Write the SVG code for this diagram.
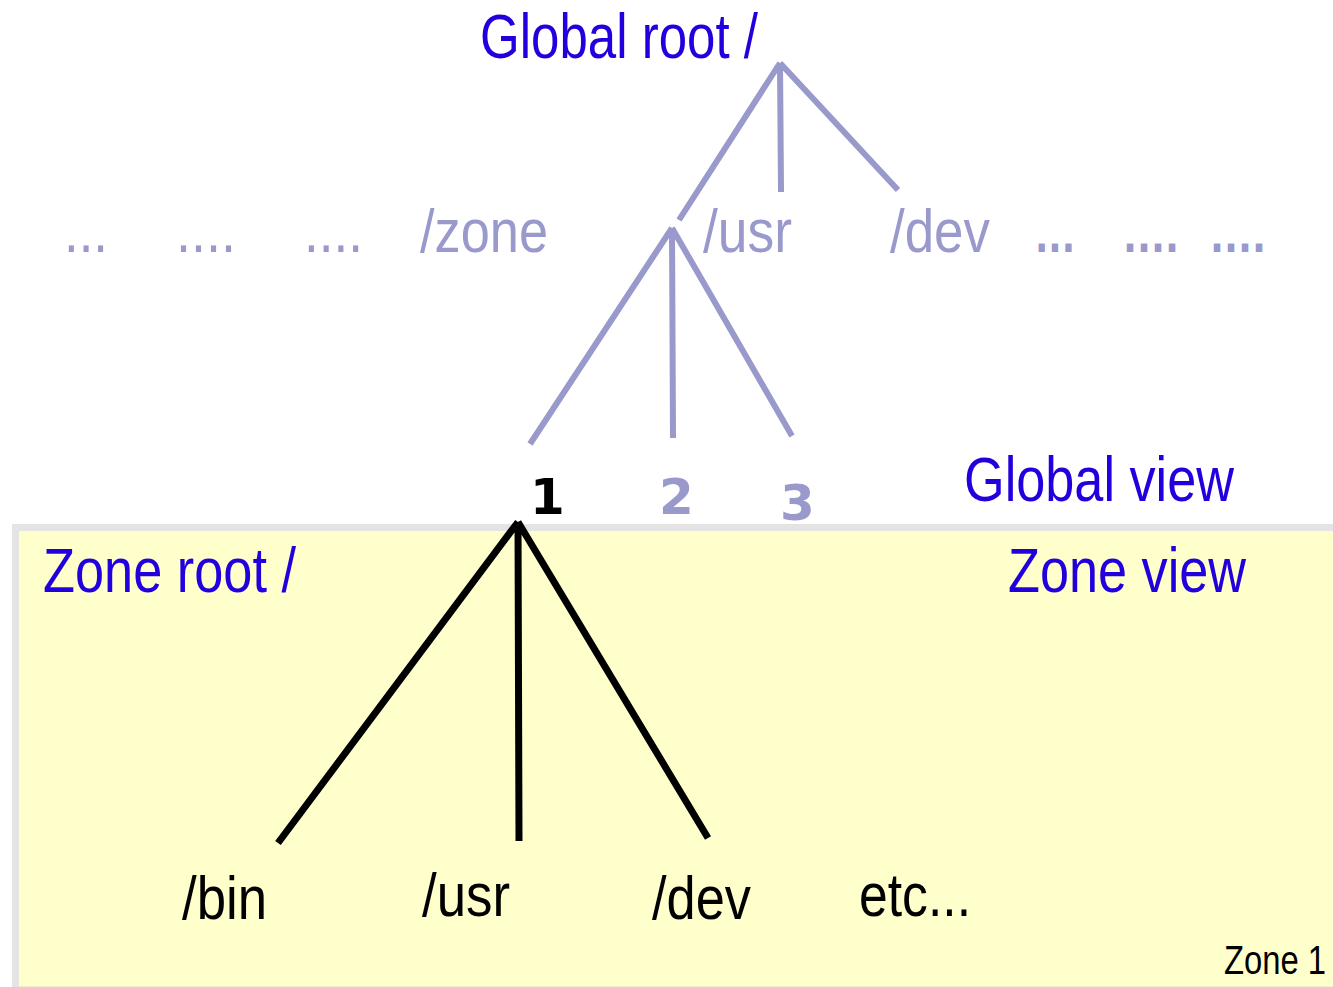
<svg xmlns="http://www.w3.org/2000/svg" width="1333" height="987" viewBox="0 0 1333 987">
<style>
text{font-family:"Liberation Sans",Arial,sans-serif;}
.blue{fill:#2200dd;font-size:63px;}
.gray{fill:#9999cc;font-size:62px;}
.blk{fill:#000;font-size:62px;}
.num{font-family:"DejaVu Sans",sans-serif;font-weight:bold;font-size:50px;}
.gl{stroke:#9999cc;stroke-width:6;fill:none;}
.bl{stroke:#000;stroke-width:7;fill:none;}
.sq{font-family:"DejaVu Sans",sans-serif;font-weight:bold;font-size:44px;fill:#9999cc;}
</style>
<rect width="1333" height="987" fill="#ffffff"/>
<g id="zone-box">
<path d="M15.5,990 L15.5,527.5 L1340,527.5" fill="#ffffcc" stroke="#e4e4e4" stroke-width="7"/>
<rect x="19" y="531" width="1314" height="456" fill="#ffffcc"/>
<line x1="19" y1="986.5" x2="1333" y2="986.5" stroke="#eeeecc" stroke-width="1"/>
</g>
<g id="zone-label"><text transform="translate(1224,974) scale(0.8,1)" font-size="41" fill="#000">Zone 1</text></g>
<g id="connectors">
<path class="gl" d="M780,63 L679,220 M780,63 L781,192 M780,63 L898,190"/>
<path class="gl" d="M672,228 L530,444 M672,228 L673,438 M672,228 L792,436"/>
<path class="bl" d="M518,522 L278,843 M518,522 L519,841 M518,522 L708,838"/>
</g>
<g id="global-root"><text class="blue" x="480" y="58" textLength="278" lengthAdjust="spacingAndGlyphs">Global root /</text></g>
<g id="dots-left">
<text class="gray" x="64" y="252" textLength="44" lengthAdjust="spacingAndGlyphs">...</text>
<text class="gray" x="176" y="252" textLength="60" lengthAdjust="spacingAndGlyphs">....</text>
<text class="gray" x="304" y="252" textLength="59" lengthAdjust="spacingAndGlyphs">....</text>
</g>
<g id="zone"><text class="gray" x="420" y="252" textLength="128" lengthAdjust="spacingAndGlyphs">/zone</text></g>
<g id="usr-global"><text class="gray" x="703" y="252" textLength="89" lengthAdjust="spacingAndGlyphs">/usr</text></g>
<g id="dev-global"><text class="gray" x="890" y="252" textLength="100" lengthAdjust="spacingAndGlyphs">/dev</text></g>
<g id="dots-right">
<text class="sq" x="1035" y="252" textLength="40" lengthAdjust="spacingAndGlyphs">...</text>
<text class="sq" x="1123" y="252" textLength="56" lengthAdjust="spacingAndGlyphs">....</text>
<text class="sq" x="1210" y="252" textLength="56" lengthAdjust="spacingAndGlyphs">....</text>
</g>
<g id="n1"><text class="num" x="530" y="514" fill="#000">1</text></g>
<g id="n2"><text class="num" x="659" y="514" fill="#9999cc">2</text></g>
<g id="n3"><text class="num" x="780" y="520" fill="#9999cc">3</text></g>
<g id="global-view"><text class="blue" x="964" y="501" textLength="270" lengthAdjust="spacingAndGlyphs">Global view</text></g>
<g id="zone-root"><text class="blue" x="43" y="592" textLength="253" lengthAdjust="spacingAndGlyphs">Zone root /</text></g>
<g id="zone-view"><text class="blue" x="1008" y="592" textLength="238" lengthAdjust="spacingAndGlyphs">Zone view</text></g>
<g id="bin"><text class="blk" x="182" y="919" textLength="85" lengthAdjust="spacingAndGlyphs">/bin</text></g>
<g id="usr-zone"><text class="blk" x="422" y="916" textLength="88" lengthAdjust="spacingAndGlyphs">/usr</text></g>
<g id="dev-zone"><text class="blk" x="652" y="919" textLength="99" lengthAdjust="spacingAndGlyphs">/dev</text></g>
<g id="etc"><text class="blk" x="859" y="916" textLength="112" lengthAdjust="spacingAndGlyphs">etc...</text></g>
</svg>
